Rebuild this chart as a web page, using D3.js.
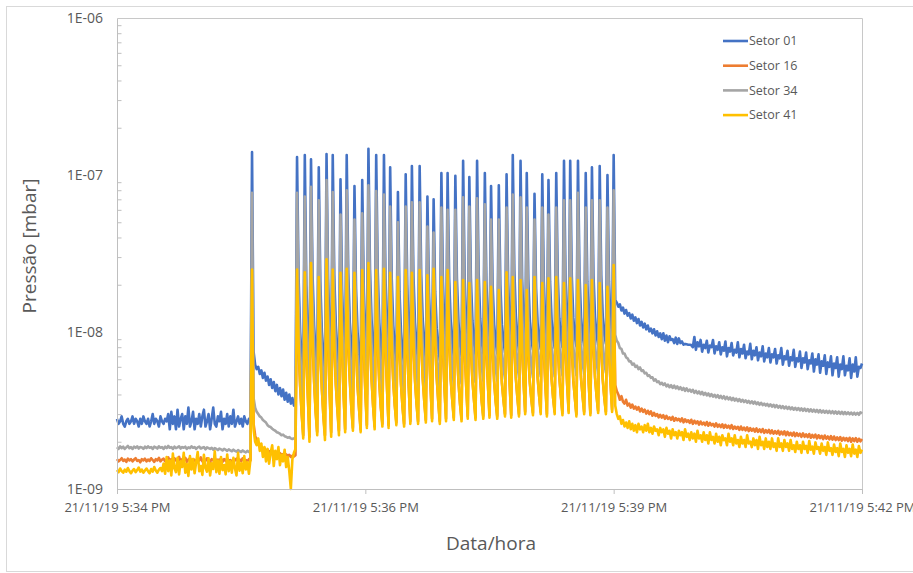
<!DOCTYPE html>
<html>
<head>
<meta charset="utf-8">
<script src="https://cdn.jsdelivr.net/npm/d3@7"></script>
<style>
  body { margin: 0; background: #fff; }
  svg text { font-family: 'Open Sans', sans-serif; fill: #595959; }
</style>
</head>
<body>
<script>
// pressure readings in units of 1e-9 mbar, one sample per second
// each series is split into 4 segments starting at these seconds after 5:34:00
var startTime = new Date(2019, 10, 21, 17, 34, 0);
var endTime = new Date(2019, 10, 21, 17, 42, 0);
var segmentStarts = [0, 87, 116, 321];
var unit = 1e-9;

var seriesNames = ['Setor 01', 'Setor 16', 'Setor 34', 'Setor 41'];

var xTickSeconds = [0, 160, 320, 480];
var xTickLabels = ['21/11/19 5:34 PM', '21/11/19 5:36 PM', '21/11/19 5:39 PM', '21/11/19 5:42 PM'];
var yTickValues = [1e-9, 1e-8, 1e-7, 1e-6];
var yTickLabels = ['1E-09', '1E-08', '1E-07', '1E-06'];

// ---- Setor 01
var setor01Base = [
  2.8,2.6,2.7,2.9,2.6,2.5,2.7,2.8,2.6,2.7,
  2.9,2.6,2.8,2.7,2.5,2.8,2.6,2.9,2.7,2.6,
  2.8,2.5,2.7,3.0,2.6,2.8,2.7,2.5,2.9,2.7,
  2.6,2.8,2.7,3.0,2.4,3.1,2.6,2.9,2.4,3.2,
  2.5,2.8,3.0,2.4,2.9,2.6,3.3,2.5,2.7,3.1,
  2.4,2.8,2.6,3.0,2.5,2.9,3.2,2.5,2.7,3.0,
  2.4,2.8,3.3,2.6,2.5,2.9,2.7,3.1,2.4,2.8,
  2.6,3.0,2.5,2.9,2.6,3.2,2.5,2.7,2.9,2.6,
  2.8,2.5,2.9,2.7,2.6,2.8,2.7
];
var setor01Spike = [
  140,7.5,6.2,5.8,6.0,5.4,5.7,5.1,5.5,4.9,
  5.2,4.6,5.0,4.4,4.8,4.2,4.6,4.0,4.4,3.9,
  4.3,3.7,4.1,3.6,4.0,3.5,3.8,3.4,3.7
];
var setor01Pulses = [
  130,22,10,6.8,5.0,
  134,20,9,5.2,
  126,23,11,7.2,5.4,
  112,21,10,7.0,5.3,
  136,22,9.5,5.5,
  134,23,11,7.4,5.6,
  94,19,9,5.7,
  134,24,11.5,7.8,5.9,
  85,19,10,7.2,5.8,
  93,19,9.4,6.0,
  147,25,12,8.0,6.1,
  134,24,11.5,7.9,6.2,
  134,22,10,6.2,
  112,22,11,7.9,6.3,
  78,18,10,7.5,6.2,
  101,20,9.8,6.4,
  114,23,11.5,8.2,6.5,
  114,23,11.8,8.3,6.6,
  73,18,9.6,6.6,
  70,18,10.5,7.8,6.6,
  103,21,10.4,6.8,
  103,22,11.8,8.5,6.9,
  99,22,11.6,8.4,7.0,
  123,22,10.8,7.1,
  97,22,11.8,8.6,7.1,
  123,24,12.2,8.8,7.2,
  103,21,10.8,7.3,
  85,20,11.2,8.6,7.3,
  86,20,11.1,8.7,7.4,
  101,21,10.9,7.5,
  134,25,12.6,9.0,7.6,
  123,22,11.2,7.6,
  103,22,11.8,8.9,7.7,
  76,19,11.4,8.9,7.8,
  101,21,11.0,7.8,
  93,21,12.0,9.1,7.9,
  103,22,12.2,9.2,8.0,
  123,22,11.4,8.0,
  123,23,12.3,9.3,8.1,
  123,23,12.4,9.4,8.2,
  103,21,11.3,8.2,
  112,23,12.5,9.5,8.3,
  114,23,12.4,9.5,8.4,
  100,21,11.5,8.5,
  134
];
var setor01Tail = [
  16,15.4,14.5,15.0,13.7,14.3,13.1,13.8,12.7,13.2,
  12.2,12.9,11.8,12.4,11.4,12.1,11.0,11.6,10.7,11.3,
  10.4,11.0,10.1,10.5,9.8,10.4,9.5,10.1,9.3,9.8,
  9.0,9.8,8.8,9.5,8.6,9.4,8.9,9.0,8.5,9.2,
  8.4,9.1,8.5,8.7,8.3,8.4,8.35,8.3,8.3,8.25,
  8.0,9.3,7.7,8.6,8.1,8.9,7.5,8.3,7.9,8.8,
  7.4,8.2,8.0,8.9,7.3,8.1,7.7,8.6,7.2,8.0,
  7.6,8.7,7.0,7.9,7.5,8.5,7.1,7.7,7.4,8.6,
  6.9,7.8,7.3,8.3,6.8,7.5,7.2,8.4,6.7,7.6,
  7.1,8.0,6.6,7.4,7.0,8.1,6.5,7.3,6.9,7.9,
  6.4,7.2,6.9,7.8,6.3,7.1,6.8,7.9,6.2,7.0,
  6.7,7.6,6.1,6.9,6.6,7.7,6.0,6.8,6.5,7.5,
  5.9,6.8,6.4,7.4,5.8,6.6,6.3,7.3,5.6,6.7,
  6.2,7.2,5.5,6.5,6.1,7.1,5.4,6.4,6.0,7.0,
  5.3,6.3,5.9,6.9,5.2,6.2,5.8,7.0,5.3,6.1,
  5.7,6.8,5.1,6.2,5.6,6.9,5.2,6.0,5.9,6.3
];

// ---- Setor 16
var setor16Base = [
  1.55,1.5,1.53,1.57,1.51,1.54,1.49,1.56,1.52,1.55,
  1.5,1.54,1.57,1.51,1.53,1.48,1.55,1.52,1.56,1.5,
  1.54,1.51,1.57,1.53,1.49,1.55,1.52,1.58,1.5,1.54,
  1.56,1.5,1.53,1.59,1.51,1.55,1.48,1.57,1.52,1.54,
  1.6,1.5,1.55,1.52,1.58,1.49,1.54,1.57,1.51,1.55,
  1.53,1.48,1.56,1.52,1.59,1.5,1.54,1.51,1.57,1.53,
  1.49,1.55,1.52,1.58,1.5,1.54,1.52,1.56,1.49,1.55,
  1.51,1.57,1.5,1.53,1.48,1.55,1.52,1.56,1.5,1.54,
  1.51,1.57,1.49,1.53,1.5,1.55,1.52
];
var setor16Spike = [
  22,2.6,2.2,2.0,1.95,1.9,1.85,1.8,1.82,1.75,
  1.78,1.72,1.75,1.7,1.73,1.68,1.7,1.66,1.69,1.65,
  1.67,1.63,1.66,1.62,1.65,1.6,1.63,1.61,1.64
];
var setor16Pulses = [
  22,8.0,4.5,3.0,2.2,
  21,7.2,3.8,2.15,
  24,8.6,4.8,3.1,2.3,
  20,7.6,4.3,2.9,2.2,
  25,8.2,4.1,2.3,
  22,8.1,4.6,3.2,2.35,
  21,7.5,4.0,2.4,
  22,8.4,4.9,3.3,2.45,
  21,7.9,4.5,3.2,2.4,
  22,7.7,4.2,2.55,
  24,8.8,5.0,3.4,2.5,
  22,8.2,4.7,3.3,2.6,
  22,7.8,4.3,2.55,
  21,8.1,4.8,3.4,2.65,
  20,7.8,4.6,3.3,2.6,
  22,7.6,4.4,2.7,
  21,8.3,4.9,3.5,2.7,
  22,8.5,5.0,3.6,2.75,
  20,7.7,4.5,2.8,
  22,8.6,5.1,3.6,2.7,
  20,7.6,4.4,2.8,
  22,8.5,5.0,3.7,2.85,
  19,7.9,4.8,3.5,2.8,
  19,7.5,4.5,2.9,
  18,7.8,4.9,3.7,2.85,
  19,8.0,5.0,3.6,2.9,
  18.5,7.4,4.6,2.95,
  17.5,7.6,4.8,3.6,2.9,
  17,7.3,4.7,3.7,3.0,
  21,8.0,4.6,2.95,
  20,8.1,5.0,3.8,3.0,
  19,7.6,4.7,3.1,
  17,7.2,4.7,3.7,3.05,
  20,8.2,5.1,3.9,3.1,
  18.5,7.5,4.6,3.0,
  19.5,8.0,5.0,3.8,3.1,
  20,8.1,5.1,3.9,3.05,
  18.5,7.6,4.7,3.15,
  19.5,7.9,4.9,3.8,3.0,
  19,7.8,5.0,3.9,3.1,
  18,7.4,4.6,3.05,
  19,8.0,5.1,3.9,3.15,
  18.5,7.7,4.9,3.8,3.1,
  17.5,7.3,4.7,3.2,
  24
];
var setor16Tail = [
  4.6,4.2,4.0,3.7,3.9,3.6,3.5,3.7,3.4,3.5,
  3.3,3.45,3.25,3.35,3.2,3.32,3.12,3.25,3.1,3.2,
  3.02,3.15,3.0,3.12,2.93,3.05,2.92,3.0,2.86,2.97,
  2.85,2.95,2.8,2.92,2.8,2.86,2.76,2.88,2.72,2.83,
  2.74,2.8,2.7,2.82,2.66,2.78,2.68,2.74,2.64,2.76,
  2.6,2.72,2.62,2.7,2.57,2.69,2.58,2.65,2.55,2.67,
  2.53,2.64,2.54,2.6,2.5,2.62,2.49,2.57,2.48,2.58,
  2.45,2.56,2.46,2.53,2.43,2.55,2.41,2.5,2.42,2.49,
  2.38,2.5,2.38,2.46,2.36,2.47,2.34,2.44,2.35,2.42,
  2.32,2.43,2.31,2.4,2.3,2.41,2.28,2.37,2.29,2.38,
  2.26,2.36,2.25,2.34,2.25,2.35,2.22,2.32,2.23,2.33,
  2.2,2.31,2.2,2.28,2.19,2.29,2.17,2.27,2.18,2.25,
  2.15,2.26,2.15,2.23,2.14,2.24,2.12,2.21,2.13,2.22,
  2.1,2.2,2.11,2.18,2.08,2.19,2.09,2.16,2.07,2.17,
  2.06,2.16,2.05,2.13,2.05,2.14,2.03,2.12,2.04,2.11,
  2.02,2.12,2.0,2.1,2.02,2.11,2.0,2.09,2.01,2.08
];

// ---- Setor 34
var setor34Base = [
  1.85,1.8,1.87,1.82,1.86,1.8,1.84,1.88,1.82,1.85,
  1.8,1.86,1.83,1.87,1.81,1.85,1.84,1.8,1.86,1.82,
  1.87,1.83,1.85,1.8,1.86,1.84,1.81,1.87,1.83,1.85,
  1.8,1.86,1.82,1.88,1.83,1.85,1.8,1.86,1.82,1.84,
  1.87,1.81,1.85,1.83,1.86,1.8,1.84,1.82,1.87,1.83,
  1.85,1.8,1.84,1.86,1.81,1.83,1.85,1.79,1.84,1.82,
  1.8,1.83,1.78,1.82,1.8,1.77,1.81,1.79,1.76,1.8,
  1.78,1.75,1.79,1.76,1.74,1.78,1.75,1.73,1.77,1.74,
  1.72,1.76,1.73,1.71,1.75,1.72,1.74
];
var setor34Spike = [
  77,3.8,3.3,3.1,3.0,2.9,2.85,2.75,2.7,2.65,
  2.55,2.5,2.48,2.42,2.38,2.35,2.3,2.28,2.25,2.2,
  2.22,2.17,2.15,2.12,2.14,2.1,2.08,2.1,2.12
];
var setor34Pulses = [
  77,15,7.5,5.0,3.4,
  73,13,6.5,3.6,
  84,16,8.0,5.2,3.6,
  69,14,7.2,4.9,3.5,
  93,15,7.0,3.7,
  78,15,7.8,5.2,3.7,
  56,12,6.4,3.8,
  80,16,8.2,5.4,3.9,
  52,13,7.2,5.0,3.8,
  57,13,6.8,4.0,
  86,17,8.5,5.6,4.0,
  79,16,8.1,5.5,4.1,
  75,14,7.0,4.1,
  63,14,7.6,5.3,4.2,
  50,12,7.0,5.1,4.1,
  63,13,6.9,4.3,
  67,15,8.0,5.6,4.4,
  67,15,8.1,5.7,4.4,
  47,12,6.8,4.5,
  43,12,7.2,5.3,4.4,
  62,13,7.0,4.6,
  60,14,8.0,5.8,4.6,
  60,14,7.9,5.7,4.7,
  72,14,7.4,4.8,
  63,14,8.0,5.9,4.8,
  71,15,8.2,6.0,4.9,
  65,13,7.3,4.9,
  52,13,7.6,5.8,4.9,
  52,12,7.5,5.9,5.0,
  62,13,7.4,5.0,
  75,15,8.3,6.1,5.1,
  72,14,7.6,5.1,
  62,13,7.8,6.0,5.1,
  52,13,7.9,6.1,5.2,
  62,13,7.5,5.2,
  56,13,8.0,6.2,5.2,
  62,14,8.2,6.2,5.3,
  69,14,7.7,5.3,
  69,14,8.1,6.3,5.3,
  77,15,8.4,6.3,5.4,
  62,13,7.6,5.4,
  69,14,8.3,6.4,5.4,
  69,14,8.2,6.3,5.5,
  62,13,7.8,5.5,
  80
];
var setor34Tail = [
  9.6,8.8,8.5,7.9,7.8,7.3,7.3,6.9,6.8,6.5,
  6.5,6.2,6.3,6.0,6.1,5.8,5.95,5.65,5.7,5.45,
  5.5,5.25,5.3,5.1,5.15,4.9,5.0,4.8,4.85,4.65,
  4.75,4.6,4.7,4.5,4.62,4.45,4.58,4.4,4.55,4.38,
  4.5,4.32,4.45,4.28,4.4,4.22,4.38,4.2,4.3,4.16,
  4.28,4.1,4.22,4.06,4.18,4.02,4.15,3.98,4.1,3.95,
  4.06,3.9,4.02,3.88,3.98,3.84,3.96,3.8,3.92,3.78,
  3.9,3.74,3.86,3.72,3.83,3.68,3.8,3.66,3.76,3.63,
  3.74,3.6,3.7,3.58,3.67,3.55,3.64,3.52,3.62,3.5,
  3.6,3.47,3.56,3.44,3.54,3.42,3.5,3.4,3.48,3.37,
  3.46,3.35,3.44,3.32,3.42,3.3,3.39,3.28,3.37,3.26,
  3.35,3.24,3.33,3.22,3.31,3.2,3.29,3.19,3.28,3.17,
  3.26,3.15,3.25,3.14,3.23,3.12,3.22,3.11,3.2,3.1,
  3.19,3.08,3.18,3.07,3.16,3.06,3.15,3.05,3.14,3.04,
  3.13,3.03,3.12,3.02,3.11,3.01,3.1,3.0,3.09,3.0,
  3.08,2.99,3.07,2.98,3.06,2.98,3.05,2.97,3.08,3.02
];

// ---- Setor 41
var setor41Base = [
  1.32,1.28,1.35,1.3,1.27,1.33,1.29,1.36,1.3,1.26,
  1.31,1.34,1.28,1.32,1.37,1.29,1.33,1.27,1.31,1.35,
  1.3,1.26,1.34,1.29,1.38,1.31,1.27,1.33,1.36,1.3,
  1.45,1.25,1.6,1.3,1.52,1.22,1.68,1.35,1.28,1.58,
  1.24,1.5,1.38,1.7,1.27,1.44,1.21,1.62,1.33,1.55,
  1.26,1.48,1.72,1.3,1.4,1.23,1.65,1.36,1.29,1.57,
  1.22,1.46,1.34,1.74,1.28,1.52,1.25,1.6,1.32,1.42,
  1.24,1.66,1.3,1.5,1.27,1.58,1.35,1.22,1.7,1.31,
  1.46,1.26,1.62,1.33,1.48,1.25,1.55
];
var setor41Spike = [
  25,2.4,2.0,1.9,2.1,1.75,1.95,1.6,1.85,1.5,
  1.8,1.45,1.7,1.9,1.4,1.75,1.55,1.85,1.42,1.65,
  1.5,1.78,1.38,1.6,1.3,1.0,1.55,1.7,1.8
];
var setor41Pulses = [
  25,8.5,4.6,3.0,2.1,
  24,7.6,3.8,2.0,
  27.5,9.2,4.9,3.1,2.2,
  22.4,8.0,4.4,2.9,2.05,
  29,8.8,4.1,2.15,
  25,8.6,4.7,3.2,2.2,
  23.8,7.9,4.0,2.3,
  25.3,9.0,5.0,3.3,2.35,
  23.8,8.4,4.6,3.2,2.3,
  24.8,8.1,4.2,2.45,
  27.5,9.4,5.1,3.4,2.4,
  24.8,8.7,4.8,3.3,2.5,
  25.3,8.3,4.3,2.45,
  23.8,8.6,4.9,3.4,2.55,
  22.4,8.2,4.7,3.3,2.5,
  24.8,8.0,4.4,2.6,
  23.8,8.8,5.0,3.5,2.6,
  24.8,9.0,5.1,3.6,2.65,
  23,8.1,4.5,2.7,
  25.3,9.1,5.2,3.6,2.6,
  22.4,8.0,4.4,2.7,
  24.8,9.0,5.1,3.7,2.75,
  20.8,8.3,4.9,3.5,2.7,
  21.4,7.9,4.5,2.8,
  20.5,8.2,5.0,3.7,2.75,
  21.4,8.5,5.1,3.6,2.8,
  20.8,7.8,4.6,2.85,
  19.4,8.0,4.9,3.6,2.8,
  18.5,7.7,4.8,3.7,2.9,
  24,8.4,4.6,2.85,
  22.4,8.6,5.1,3.8,2.9,
  21.4,8.0,4.7,3.0,
  18.5,7.6,4.8,3.7,2.95,
  22.4,8.7,5.2,3.9,3.0,
  20.5,7.9,4.6,2.9,
  22,8.5,5.1,3.8,3.0,
  22.4,8.6,5.2,3.9,2.95,
  20.5,8.0,4.7,3.05,
  22,8.4,5.0,3.8,2.9,
  21.4,8.3,5.1,3.9,3.0,
  19.9,7.8,4.6,2.95,
  21.4,8.5,5.2,3.9,3.05,
  20.5,8.2,5.0,3.8,3.0,
  19.4,7.7,4.7,3.1,
  26.7
];
var setor41Tail = [
  3.4,3.0,2.8,2.9,2.6,2.75,2.5,2.65,2.45,2.7,
  2.4,2.6,2.35,2.55,2.3,2.6,2.4,2.5,2.3,2.55,
  2.35,2.6,2.3,2.45,2.25,2.5,2.35,2.4,2.2,2.45,
  2.3,2.4,2.15,2.45,2.25,2.35,2.1,2.4,2.2,2.3,
  2.1,2.35,2.2,2.3,2.05,2.4,2.15,2.25,2.05,2.3,
  2.1,2.25,2.0,2.35,2.1,2.2,2.0,2.3,2.05,2.2,
  1.95,2.3,2.05,2.15,1.95,2.25,2.0,2.15,1.9,2.2,
  2.05,2.1,1.9,2.25,2.0,2.1,1.9,2.2,1.95,2.05,
  1.85,2.15,1.95,2.05,1.85,2.2,1.95,2.0,1.85,2.1,
  1.9,2.05,1.8,2.15,1.9,2.0,1.8,2.1,1.85,2.0,
  1.8,2.1,1.85,1.95,1.75,2.1,1.85,1.95,1.75,2.05,
  1.85,1.95,1.75,2.05,1.8,1.9,1.72,2.0,1.8,1.9,
  1.7,2.0,1.8,1.88,1.7,2.02,1.78,1.86,1.68,1.98,
  1.8,1.85,1.68,1.95,1.75,1.85,1.65,1.98,1.75,1.82,
  1.65,1.92,1.72,1.82,1.62,1.95,1.72,1.8,1.6,1.9,
  1.7,1.8,1.62,1.92,1.68,1.78,1.6,1.88,1.7,1.78
];

var colors = ['#4472C4', '#ED7D31', '#A5A5A5', '#FFC000'];
var segments = [
  [setor01Base, setor01Spike, setor01Pulses, setor01Tail],
  [setor16Base, setor16Spike, setor16Pulses, setor16Tail],
  [setor34Base, setor34Spike, setor34Pulses, setor34Tail],
  [setor41Base, setor41Spike, setor41Pulses, setor41Tail]
];

function toPoints(segs) {
  var pts = [];
  segs.forEach(function(vals, i) {
    vals.forEach(function(v, j) {
      pts.push({
        t: new Date(startTime.getTime() + (segmentStarts[i] + j) * 1000),
        v: v * unit
      });
    });
  });
  return pts;
}

var series = seriesNames.map(function(name, i) {
  return { name: name, color: colors[i], data: toPoints(segments[i]) };
});

var W = 913, H = 573;
var margin = { top: 18, right: 51, bottom: 84, left: 117 };
var width = W - margin.left - margin.right;
var height = H - margin.top - margin.bottom;

var svg = d3.select('body').append('svg')
  .attr('width', W)
  .attr('height', H);

// chart border
svg.append('rect')
  .attr('x', 6.5).attr('y', 6.5)
  .attr('width', 920).attr('height', 565)
  .attr('fill', 'none')
  .attr('stroke', '#d9d9d9');

var g = svg.append('g')
  .attr('transform', `translate(${margin.left}, ${margin.top})`);

var xScale = d3.scaleTime().domain([startTime, endTime]).range([0, width]);
var yScale = d3.scaleLog().domain([1e-9, 1e-6]).range([height, 0]);

// plot frame (top + right)
g.append('path')
  .attr('d', `M0.5,0.5H${width + 0.5}V${height}`)
  .attr('fill', 'none')
  .attr('stroke', '#c8c8c8');

var valueLine = d3.line()
  .x(function(d) { return xScale(d.t); })
  .y(function(d) { return yScale(d.v); });

g.selectAll('.series')
  .data(series)
  .enter().append('path')
  .attr('class', 'series')
  .attr('fill', 'none')
  .attr('stroke', function(d) { return d.color; })
  .attr('stroke-width', 2.6)
  .attr('stroke-linejoin', 'round')
  .attr('d', function(d) { return valueLine(d.data); });

// x axis
var xTicks = xTickSeconds.map(function(s) { return new Date(startTime.getTime() + s * 1000); });
var xAxis = g.append('g')
  .attr('transform', `translate(0, ${height})`)
  .call(d3.axisBottom(xScale)
    .tickValues(xTicks)
    .tickSize(5)
    .tickPadding(9)
    .tickFormat(function(d, i) { return xTickLabels[i]; }));
xAxis.select('.domain').attr('stroke', '#bfbfbf').attr('d', `M0,0.5H${width}`);
xAxis.selectAll('.tick line').attr('stroke', '#bfbfbf');
xAxis.selectAll('.tick text').attr('font-size', 13);

// y axis
var yAxis = g.append('g')
  .call(d3.axisLeft(yScale)
    .tickValues(yTickValues)
    .tickSize(0)
    .tickPadding(14)
    .tickFormat(function(d, i) { return yTickLabels[i]; }));
yAxis.select('.domain').attr('stroke', '#bfbfbf');
yAxis.selectAll('.tick text').attr('font-size', 14);

// minor ticks inside the axis
var minor = yScale.ticks().filter(function(d) {
  return yTickValues.indexOf(d) < 0;
});
g.append('g')
  .attr('transform', 'translate(0.5, 0)')
  .call(d3.axisRight(yScale).tickValues(minor).tickSize(4).tickFormat(''))
  .call(function(a) {
    a.select('.domain').remove();
    a.selectAll('line').attr('stroke', '#bfbfbf');
  });

// axis titles
svg.append('text')
  .attr('transform', 'translate(36, 246) rotate(-90)')
  .attr('text-anchor', 'middle')
  .attr('font-size', 19)
  .text('Pressão [mbar]');

svg.append('text')
  .attr('x', 491)
  .attr('y', 550)
  .attr('text-anchor', 'middle')
  .attr('font-size', 19)
  .text('Data/hora');

// legend
var legend = svg.append('g')
  .attr('transform', 'translate(723, 41)');

var item = legend.selectAll('.item')
  .data(series)
  .enter().append('g')
  .attr('transform', function(d, i) { return `translate(0, ${i * 24.7})`; });

item.append('line')
  .attr('x1', 0).attr('x2', 25)
  .attr('stroke', function(d) { return d.color; })
  .attr('stroke-width', 2.6);

item.append('text')
  .attr('x', 26)
  .attr('dy', '0.35em')
  .attr('font-size', 12.5)
  .text(function(d) { return d.name; });
</script>
</body>
</html>
